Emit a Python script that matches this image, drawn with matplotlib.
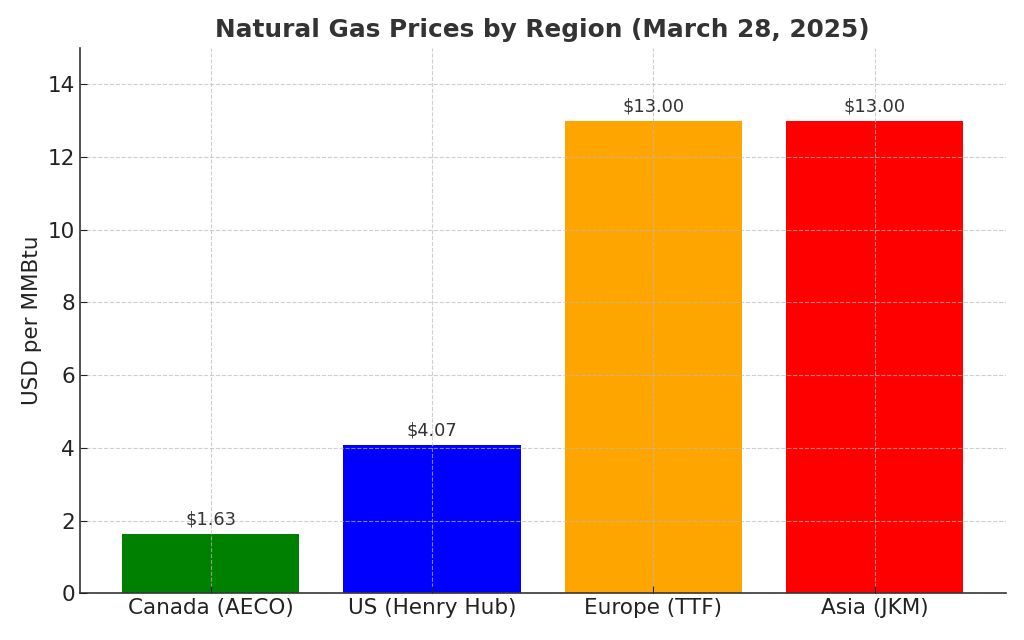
import matplotlib.pyplot as plt

regions = ["Canada (AECO)", "US (Henry Hub)", "Europe (TTF)", "Asia (JKM)"]
prices = [1.63, 4.07, 13.00, 13.00]
bar_colors = ["green", "blue", "orange", "red"]

fig, ax = plt.subplots(figsize=(10.24, 6.4), dpi=100)

bars = ax.bar(regions, prices, color=bar_colors, width=0.8)

# price labels above the bars
for b, p in zip(bars, prices):
    ax.text(b.get_x() + b.get_width() / 2, p + 0.15, f"${p:.2f}",
            ha="center", va="bottom", fontsize=12.8, color="#333333")

ax.set_title("Natural Gas Prices by Region (March 28, 2025)",
             fontsize=17.8, fontweight="bold", color="#333333", pad=8)
ax.set_ylabel("USD per MMBtu", fontsize=15.5, color="#222222")
ax.set_ylim(0, 15)
ax.set_yticks(range(0, 15, 2))

ax.set_axisbelow(False)
ax.grid(True, linestyle="--", color="#bbbbbb", alpha=0.7, linewidth=0.8)

for s in ["top", "right"]:
    ax.spines[s].set_visible(False)
for s in ["left", "bottom"]:
    ax.spines[s].set_color("#333333")
    ax.spines[s].set_linewidth(1.2)

ax.tick_params(direction="in", labelsize=15.5, colors="#222222", length=5)

plt.subplots_adjust(left=0.078, right=0.982, top=0.925, bottom=0.073)
plt.savefig("out.png")
